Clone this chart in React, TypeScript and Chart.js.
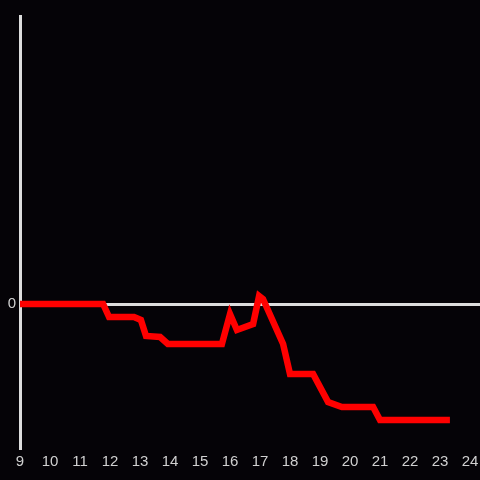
import React, { useEffect, useRef } from "react";
import { Chart, registerables } from "chart.js";

Chart.register(...registerables);

const hours: number[] = [9, 11.77, 11.97, 12.8, 13.03, 13.2, 13.67, 13.93, 15.73, 16.0, 16.23, 16.77, 16.97, 17.1, 17.77, 18.0, 18.77, 19.27, 19.73, 20.77, 21.0, 23.33];
const values: number[] = [0, 0, -13, -13, -16, -32, -33, -40, -40, -10, -26, -20, 8, 5, -40, -70, -70, -98, -103, -103, -116, -116];
const xTicks: number[] = [9, 10, 11, 12, 13, 14, 15, 16, 17, 18, 19, 20, 21, 22, 23, 24];
const yTicks: number[] = [0];

export default function App() {
  const ref = useRef<HTMLCanvasElement | null>(null);
  useEffect(() => {
    if (!ref.current) return;
    const chart = new Chart(ref.current, {
      type: "line",
      data: {
        datasets: [
          {
            data: hours.map((h, i) => ({ x: h, y: values[i] })),
            borderColor: "#ff0000",
            borderWidth: 6.5,
            pointRadius: 0,
            tension: 0,
            fill: false,
          },
        ],
      },
      options: {
        animation: false,
        responsive: false,
        maintainAspectRatio: false,
        layout: { padding: { top: 16, right: 0, left: 0, bottom: 0 } },
        plugins: { legend: { display: false }, tooltip: { enabled: false } },
        scales: {
          x: {
            type: "linear",
            min: 9,
            max: 24.333,
            afterBuildTicks: (s: any) => {
              s.ticks = xTicks.map((v) => ({ value: v }));
            },
            afterFit: (s: any) => {
              s.height = 32;
              s.paddingLeft = 0;
              s.paddingRight = 0;
            },
            grid: { display: false, drawTicks: false },
            border: { display: false },
            ticks: {
              color: "#d0d0d0",
              padding: 5,
              maxRotation: 0,
              autoSkip: false,
              font: { size: 15, family: "'Liberation Sans', Arial, sans-serif" },
            },
          },
          y: {
            type: "linear",
            min: -144,
            max: 288,
            afterBuildTicks: (s: any) => {
              s.ticks = yTicks.map((v) => ({ value: v }));
            },
            afterFit: (s: any) => {
              s.width = 20;
              s.paddingTop = 0;
              s.paddingBottom = 0;
            },
            grid: { color: "#dddddd", lineWidth: 3, drawTicks: false },
            border: { display: true, color: "#dddddd", width: 3 },
            ticks: {
              color: "#d0d0d0",
              padding: 4,
              font: { size: 15, family: "'Liberation Sans', Arial, sans-serif" },
            },
          },
        },
      },
    });
    return () => chart.destroy();
  }, []);
  return (
    <div style={{ position: "fixed", left: 0, top: 0, width: 480, height: 480, background: "#050307" }}>
      <canvas ref={ref} width={480} height={480} style={{ display: "block" }} />
    </div>
  );
}
